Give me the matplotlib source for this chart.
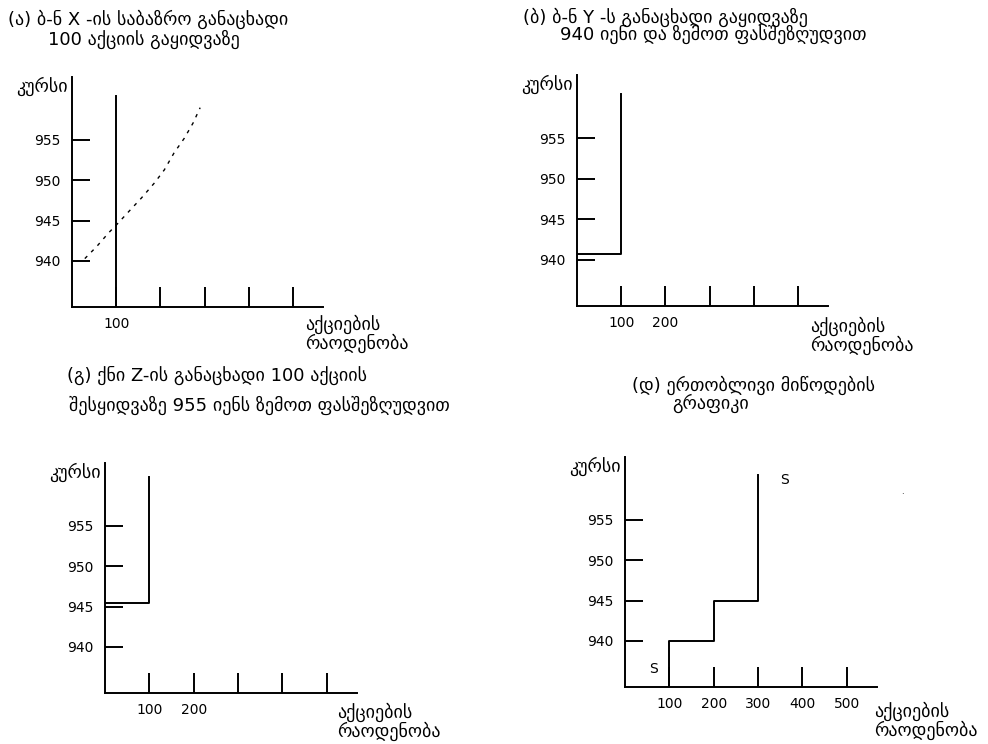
import matplotlib
matplotlib.use("Agg")
import matplotlib.pyplot as plt

W, H = 988, 744

# shared axis scales (price in yen, quantity in shares)
Y_MIN, Y_MAX = 934.3, 962.8
X_MAX = 568
price_ticks = [940, 945, 950, 955]
qty_ticks = [100, 200, 300, 400, 500]

# (a) market order of Mr X: vertical line at 100 shares + dashed curve
a_line_x = 100
a_line_top = 960.4
a_curve_x = [29, 56, 83, 101, 128, 157, 187, 209, 231, 254, 274, 290]
a_curve_y = [940.3, 941.8, 943.5, 944.5, 946.1, 947.8, 949.7, 951.3, 953.4, 955.2, 957.1, 959.0]
a_qty_labels = ["100", "", "", "", ""]

# (b) Mr Y: sell at 940 and above
b_step_x = [0, 100, 100]
b_step_y = [940.75, 940.75, 960.5]
b_qty_labels = ["100", "200", "", "", ""]

# (c) Ms Z: buy 100 at 955 and above
c_step_x = [0, 100, 100]
c_step_y = [945.4, 945.4, 961.1]
c_qty_labels = ["100", "200", "", "", ""]

# (d) combined supply schedule
d_step_x = [100, 100, 200, 200, 300, 300]
d_step_y = [Y_MIN, 940, 940, 945, 945, 960.6]
d_qty_labels = ["100", "200", "300", "400", "500"]

Y_LABEL = "კურსი"
X_LABEL = "აქციების\nრაოდენობა"

FS = 10      # numbers
GFS = 13     # georgian captions
LW = 1.4

fig = plt.figure(figsize=(W / 100, H / 100), dpi=100)


def fx(x):
    return x / W


def fy(y):
    return 1 - y / H


def panel(left, top, right, bottom, qty_labels):
    ax = fig.add_axes([fx(left), fy(bottom), fx(right - left), (bottom - top) / H])
    ax.set_xlim(0, X_MAX)
    ax.set_ylim(Y_MIN, Y_MAX)
    for s in ("top", "right"):
        ax.spines[s].set_visible(False)
    for s in ("left", "bottom"):
        ax.spines[s].set_linewidth(LW)
    ax.set_yticks(price_ticks)
    ax.set_yticklabels([str(t) for t in price_ticks])
    ax.set_xticks(qty_ticks)
    ax.set_xticklabels(qty_labels)
    ax.tick_params(axis="y", direction="in", length=13, width=LW, pad=8, labelsize=FS)
    ax.tick_params(axis="x", direction="in", length=14.5, width=LW, pad=7, labelsize=FS)
    ax.patch.set_visible(False)
    # price label at the top of the vertical axis
    fig.text(fx(left - 4), fy(top + 9), Y_LABEL, ha="right", va="center", fontsize=GFS)
    return ax


def text(x, y, s, **kw):
    fig.text(fx(x), fy(y), s, ha="left", va="center", fontsize=GFS, **kw)


def qty_label(x, y):
    fig.text(fx(x), fy(y), X_LABEL, ha="left", va="center", fontsize=GFS, linespacing=0.95)


# (a)
ax = panel(72, 77, 323, 307, a_qty_labels)
ax.plot([a_line_x, a_line_x], [Y_MIN, a_line_top], color="black", lw=LW)
ax.plot(a_curve_x, a_curve_y, color="black", lw=1.0, ls=(0, (2.5, 4)))
text(8, 19, "(ა) ბ-ნ X -ის საბაზრო განაცხადი")
text(48, 39, "100 აქციის გაყიდვაზე")
qty_label(305, 334)

# (b)
ax = panel(577, 75, 828, 306, b_qty_labels)
ax.plot(b_step_x, b_step_y, color="black", lw=LW)
text(523, 17, "(ბ) ბ-ნ Y -ს განაცხადი გაყიდვაზე")
text(560, 34, "940 იენი და ზემოთ ფასშეზღუდვით")
qty_label(810, 336)

# (c)
ax = panel(105, 463, 357, 693, c_qty_labels)
ax.plot(c_step_x, c_step_y, color="black", lw=LW)
text(67, 375, "(გ) ქნი Z-ის განაცხადი 100 აქციის")
text(69, 405, "შესყიდვაზე 955 იენს ზემოთ ფასშეზღუდვით")
qty_label(337, 722)

# (d)
ax = panel(625, 457, 877, 687, d_qty_labels)
ax.plot(d_step_x, d_step_y, color="black", lw=LW)
ax.text(360, 960, "S", ha="center", va="center", fontsize=FS)
ax.text(65, 936.5, "S", ha="center", va="center", fontsize=FS)
text(632, 385, "(დ) ერთობლივი მიწოდების")
text(672, 403, "გრაფიკი")
qty_label(874, 721)
fig.text(fx(902), fy(491), ".", ha="center", va="center", fontsize=6)

fig.savefig("out.png", dpi=100)
